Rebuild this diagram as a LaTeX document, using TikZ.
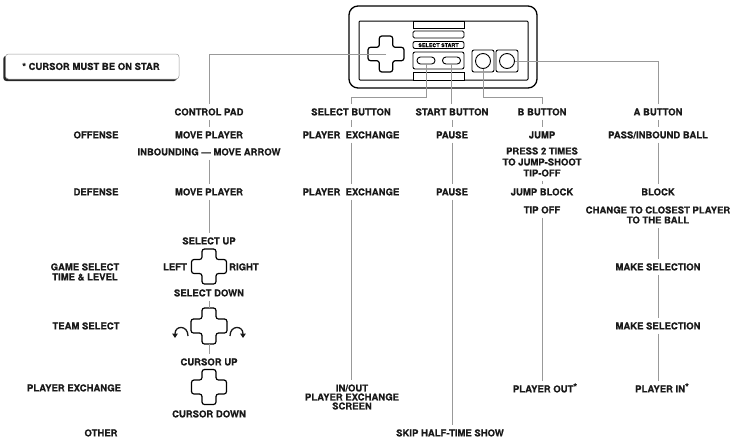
\documentclass[tikz,border=0pt]{standalone}
\usepackage{fontspec}
\setmainfont{TeX Gyre Heros}[BoldFeatures={FakeBold=0.6}]
\usetikzlibrary{arrows.meta,calc}
\definecolor{ink}{gray}{0.1}
\definecolor{wire}{gray}{0.6}
\newcommand\mypad[4]{%
  \draw[#4, shift={(#1)}] (-#3,-#2) -- (#3,-#2) -- (#3,-#3) -- (#2,-#3) -- (#2,#3) -- (#3,#3) -- (#3,#2) -- (-#3,#2) -- (-#3,#3) -- (-#2,#3) -- (-#2,-#3) -- (-#3,-#3) -- cycle;}
\newcommand\mystar{\raisebox{2.2pt}{\fontsize{9.5}{9.5}\selectfont\bfseries *}}
\begin{document}
\begin{tikzpicture}[x=1pt,y=-1pt,
  txt/.style={font=\fontsize{9.5}{10.5}\selectfont\bfseries, text=ink, inner xsep=2pt, inner ysep=4pt, text height=6.8pt, text depth=0pt},
  mtxt/.style={font=\fontsize{9.5}{10}\selectfont\bfseries, text=ink, inner xsep=2pt, inner ysep=4pt, align=center},
  hdr/.style={txt},
  conn/.style={draw=wire, line width=0.5pt},
  body/.style={draw=black, line width=1.3pt},
  part/.style={draw=black, line width=0.9pt, fill=white},
  padline/.style={draw=black, line width=1.2pt, rounded corners=2.5pt},
  padbox/.style={inner sep=0pt, minimum size=36pt},
  pill/.style={draw=black, line width=0.9pt, rounded corners=3.4pt, minimum width=18pt, minimum height=7pt, inner sep=0pt},
  btn/.style={circle, draw=black, line width=0.9pt, minimum size=15pt, inner sep=0pt},
  turn/.style={draw=ink, line width=1.3pt, -{Triangle[length=4.5pt,width=5.5pt]}},
]
\useasboundingbox (0,0) rectangle (733,440);

% ---------- note box ----------
\fill[black!85, rounded corners=3pt] (3.3,55.8) rectangle (177,81);
\draw[black!40, fill=white, line width=0.5pt, rounded corners=3pt] (5.5,54) rectangle (179,79);
\node[txt] (note) at (91,66.5) {* CURSOR MUST BE ON STAR};

% ---------- controller ----------
\draw[body, rounded corners=9pt] (349,6) rectangle (537,88);
\draw[draw=black, line width=1pt, rounded corners=1pt] (359,21) rectangle (528,80);
\draw[part] (413,21) rectangle (464,28);
\draw[part, rounded corners=1.5pt] (413,31) rectangle (464,38);
\draw[part, rounded corners=2pt] (413,41.5) rectangle (464,48.5);
\node[font=\fontsize{5.4}{6}\selectfont\bfseries, inner sep=0pt] (sslbl) at (438.5,45.2) {SELECT START};
\draw[part, rounded corners=2pt] (413,52) rectangle (464,69);
\draw[part] (413,72) rectangle (464,80);
\node[pill] (sel) at (426,60.5) {};
\node[pill] (sta) at (451.5,60.5) {};
\draw[part, rounded corners=2pt] (472,50) rectangle (494,72);
\draw[part, rounded corners=2pt] (496,50) rectangle (518,72);
\node[btn] (bb) at (483,61) {};
\node[btn] (ab) at (507,61) {};
\node[padbox] (dpad) at (386,54) {};
\mypad{dpad}{18}{6.7}{padline}

% ---------- headers ----------
\node[hdr] (h1) at (209,112) {CONTROL PAD};
\node[hdr] (h2) at (351,112) {SELECT BUTTON};
\node[hdr] (h3) at (452,112) {START BUTTON};
\node[hdr] (h4) at (542,112) {B BUTTON};
\node[hdr] (h5) at (658,112) {A BUTTON};

% ---------- row labels ----------
\node[txt] (rOff) at (96,135) {OFFENSE};
\node[txt] (rDef) at (96,192) {DEFENSE};
\node[mtxt] (rGame) at (85,272) {GAME SELECT\\TIME \& LEVEL};
\node[txt] (rTeam) at (86,326) {TEAM SELECT};
\node[txt] (rPx) at (74,388) {PLAYER EXCHANGE};
\node[txt] (rOth) at (101,433) {OTHER};

% ---------- offense ----------
\node[txt] (o1) at (209,135) {MOVE PLAYER};
\node[txt] (o1b) at (209,152) {INBOUNDING --- MOVE ARROW};
\node[txt] (o2) at (351,135) {PLAYER\ \ EXCHANGE};
\node[txt] (o3) at (452,135) {PAUSE};
\node[txt] (o4) at (542,135) {JUMP};
\node[mtxt, font=\fontsize{9.5}{11}\selectfont\bfseries] (o4b) at (542,162) {PRESS 2 TIMES\\TO JUMP-SHOOT\\TIP-OFF};
\node[txt] (o5) at (658,135) {PASS/INBOUND BALL};

% ---------- defense ----------
\node[txt] (d1) at (209,192) {MOVE PLAYER};
\node[txt] (d2) at (351,192) {PLAYER\ \ EXCHANGE};
\node[txt] (d3) at (452,192) {PAUSE};
\node[txt] (d4) at (542,192) {JUMP BLOCK};
\node[txt] (d4b) at (542,210) {TIP OFF};
\node[txt] (d5) at (658,192) {BLOCK};
\node[mtxt] (d5b) at (658,215) {CHANGE TO CLOSEST PLAYER\\TO THE BALL};

% ---------- game select ----------
\node[txt] (su) at (209,241) {SELECT UP};
\node[padbox] (x1) at (209,266.5) {};
\mypad{x1}{17.5}{7}{padline}
\node[txt] (lf) at (175,267) {LEFT};
\node[txt] (rt) at (244,267) {RIGHT};
\node[txt] (sd) at (209,293) {SELECT DOWN};
\node[txt] (m5a) at (658,267) {MAKE SELECTION};

% ---------- team select ----------
\node[padbox] (x2) at (209,326) {};
\mypad{x2}{18}{7}{padline}
\coordinate (la1) at (188,336);
\coordinate (la2) at (175,338);
\coordinate (ra1) at (230,336);
\coordinate (ra2) at (243,338);
\draw[turn] (la1) .. controls (188,325) and (175,325) .. (la2);
\draw[turn] (ra1) .. controls (230,325) and (243,325) .. (ra2);
\node[txt] (m5b) at (658,326) {MAKE SELECTION};
\node[txt] (cu) at (209,362) {CURSOR UP};

% ---------- player exchange ----------
\node[padbox] (x3) at (209,387) {};
\mypad{x3}{17.5}{7}{padline}
\node[txt] (cd) at (209,414) {CURSOR DOWN};
\node[mtxt, font=\fontsize{9.5}{9}\selectfont\bfseries] (io) at (352,397) {IN/OUT\\PLAYER EXCHANGE\\SCREEN};
\node[txt] (po) at (545,389) {PLAYER OUT\mystar};
\node[txt] (pi) at (662,389) {PLAYER IN\mystar};

% ---------- other ----------
\node[txt] (sk) at (450,433) {SKIP HALF-TIME SHOW};

% ---------- connectors from controller ----------
\coordinate (k2) at (351,97);
\coordinate (k4) at (542,97);
\draw[conn] (dpad.center) -| (h1.north);
\draw[conn] (sel.south) -- (sel.south |- k2) -- (k2) -- (h2.north);
\draw[conn] (sta.south) -- (sta.south |- h3.north);
\draw[conn] (bb.south) -- (bb.south |- k4) -- (k4) -- (h4.north);
\draw[conn] (ab.east) -| (h5.north);

% ---------- column connectors ----------
\draw[conn] (h1) -- (o1);
\draw[conn] (o1b) -- (d1);
\draw[conn] (d1) -- (su);
\draw[conn] (sd) -- (x2);
\draw[conn] (x2) -- (cu);

\draw[conn] (h2) -- (o2);
\draw[conn] (o2) -- (d2);
\draw[conn] (d2.south) -- (d2.south |- io.north);

\draw[conn] (h3) -- (o3);
\draw[conn] (o3) -- (d3);
\draw[conn] (d3.south) -- (d3.south |- sk.north);

\draw[conn] (h4) -- (o4);
\draw[conn] (o4b) -- (d4);
\draw[conn] (d4b.south) -- (d4b.south |- po.north);

\draw[conn] (h5) -- (o5);
\draw[conn] (o5) -- (d5);
\draw[conn] (d5b) -- (m5a);
\draw[conn] (m5a) -- (m5b);
\draw[conn] (m5b.south) -- (m5b.south |- pi.north);
\end{tikzpicture}
\end{document}
